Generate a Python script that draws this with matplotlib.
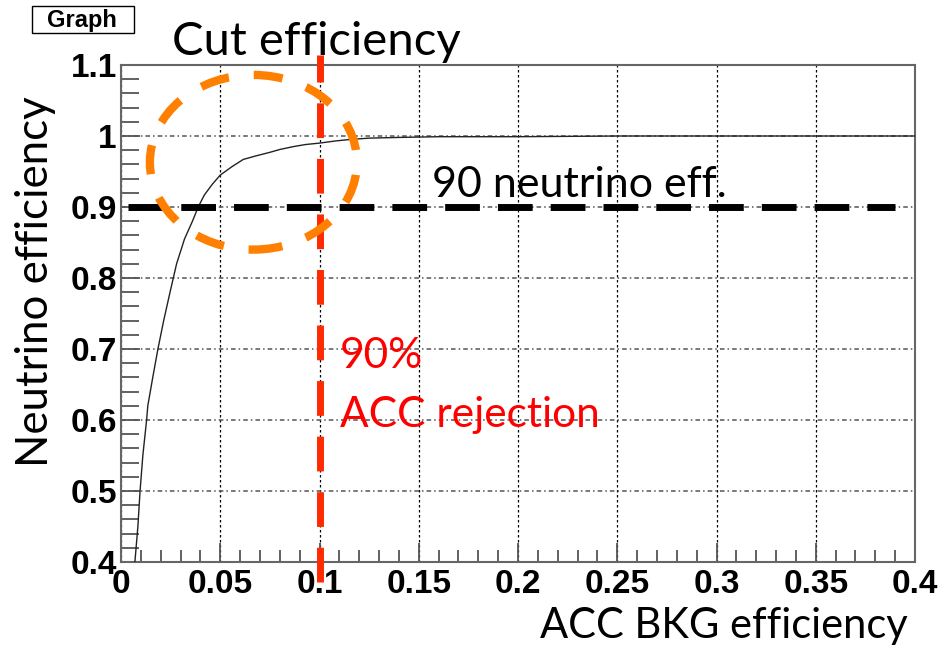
import numpy as np
import matplotlib
matplotlib.use("Agg")
import matplotlib.pyplot as plt
from matplotlib.patches import Ellipse, Rectangle
from matplotlib.ticker import MultipleLocator

# curve: ACC BKG efficiency vs neutrino efficiency
bkg_eff = [0.0070, 0.0085, 0.0096, 0.0110, 0.0129, 0.0135, 0.0160, 0.0186,
           0.0215, 0.0247, 0.0280, 0.0320, 0.0360, 0.0389, 0.0420, 0.0460,
           0.0500, 0.0560, 0.0616, 0.0680, 0.0750, 0.0800, 0.0867, 0.0930,
           0.1000, 0.1080, 0.1150, 0.1250, 0.1400, 0.1600, 0.2000, 0.2500,
           0.3000, 0.3500, 0.4000]
nu_eff = [0.40, 0.45, 0.50, 0.55, 0.60, 0.62, 0.66, 0.70,
          0.74, 0.78, 0.82, 0.855, 0.88, 0.90, 0.917, 0.932,
          0.945, 0.957, 0.967, 0.972, 0.977, 0.981, 0.985, 0.988,
          0.990, 0.993, 0.995, 0.997, 0.998, 0.999, 0.999, 1.0,
          1.0, 1.0, 1.0]

xtick_labels = ["0", "0.05", "0.1", "0.15", "0.2", "0.25", "0.3", "0.35", "0.4"]
ytick_labels = ["0.4", "0.5", "0.6", "0.7", "0.8", "0.9", "1", "1.1"]

cut_x = 0.1      # 90% ACC rejection
cut_y = 0.9      # 90 neutrino eff.
circle_center = (0.0667, 0.963)
circle_size = (0.1043, 0.246)

W, H = 947, 646
fig = plt.figure(figsize=(W / 100, H / 100), dpi=100)
ax = fig.add_axes([121 / W, 1 - 562 / H, 794 / W, 497 / H])

ax.plot(bkg_eff, nu_eff, color="#222222", lw=1.0, zorder=3)

ax.set_xlim(0, 0.4)
ax.set_ylim(0.4, 1.1)
ax.set_xticks(np.arange(0, 0.401, 0.05))
ax.set_xticklabels(xtick_labels)
ax.set_yticks(np.arange(0.4, 1.101, 0.1))
ax.set_yticklabels(ytick_labels)
ax.xaxis.set_minor_locator(MultipleLocator(0.01))
ax.yaxis.set_minor_locator(MultipleLocator(0.02))

for sp in ax.spines.values():
    sp.set_color("#666666")
    sp.set_linewidth(1.5)
ax.tick_params(which="both", direction="in", color="#555555", width=1.3,
               top=False, right=False)
ax.tick_params(which="major", length=14)
ax.tick_params(which="minor", length=9)
ax.tick_params(axis="y", which="minor", length=13)
for lab in ax.get_xticklabels() + ax.get_yticklabels():
    lab.set_fontfamily("Liberation Sans")
    lab.set_fontweight("bold")
    lab.set_fontsize(24)
ax.tick_params(axis="x", pad=5)
ax.tick_params(axis="y", pad=3)

ax.grid(True, axis="x", which="major", color="black", ls=(0, (2, 2)), lw=0.9)
ax.grid(True, axis="y", which="major", color="#555555", ls=(0, (3, 2, 1, 2)), lw=1.1)

# black dashed 90% line
ax.plot([0.0035, 0.39], [cut_y, cut_y], color="black", lw=5,
        ls=(0, (5, 2.6)), zorder=4, clip_on=False)
# red dashed cut line
ax.plot([cut_x, cut_x], [0.372, 1.114], color="#ff2a00", lw=5,
        ls=(0, (5, 3)), zorder=5, clip_on=False)
# orange dashed ellipse
ax.add_patch(Ellipse(circle_center, circle_size[0], circle_size[1],
                     fill=False, ec="#ff8000", lw=6, ls=(0, (3.5, 3)),
                     zorder=6, clip_on=False))

sans = ["Lato", "DejaVu Sans"]
fig.text(172 / W, 1 - 55 / H, "Cut efficiency", family=sans, fontsize=34,
         va="baseline", ha="left")
fig.text(432 / W, 1 - 197 / H, "90 neutrino eff.", family=sans, fontsize=31,
         va="baseline", ha="left")
fig.text(340 / W, 1 - 368 / H, "90%", family=sans, fontsize=30.5,
         color="#ff0000", va="baseline", ha="left")
fig.text(340 / W, 1 - 427 / H, "ACC rejection", family=sans, fontsize=30.5,
         color="#ff0000", va="baseline", ha="left")
fig.text(540 / W, 1 - 638 / H, "ACC BKG efficiency", family=sans, fontsize=30,
         va="baseline", ha="left")
fig.text(36 / W, 1 - 282 / H, "Neutrino efficiency", family=sans, fontsize=31.5,
         rotation=90, va="center", ha="center")

# ROOT graph title box
fig.patches.append(Rectangle((32 / W, 1 - 33 / H), 102 / W, 27 / H,
                             transform=fig.transFigure, fill=False,
                             ec="black", lw=1.0))
fig.text(82 / W, 1 - 20 / H, "Graph", family="Liberation Sans",
         fontweight="bold", fontsize=17, va="center", ha="center")

fig.savefig("out.png", dpi=100)
